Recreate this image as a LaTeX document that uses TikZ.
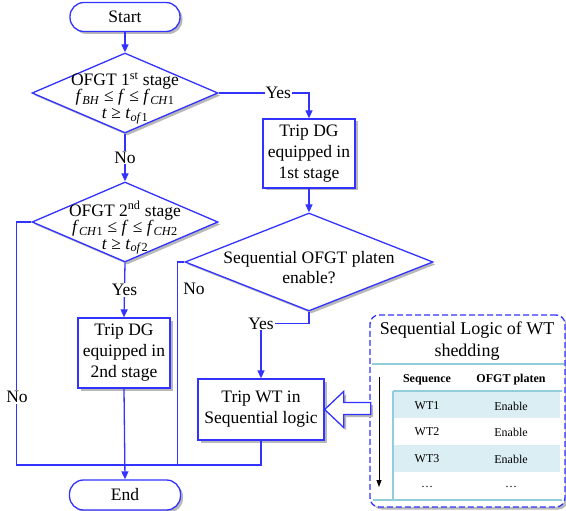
\documentclass[tikz,border=0pt]{standalone}
\usepackage{fontspec}
\setmainfont{Liberation Serif}
\usetikzlibrary{shapes.geometric,shadows,arrows.meta,calc}
\definecolor{fb}{RGB}{51,51,255}
\definecolor{tl}{RGB}{146,205,220}
\definecolor{tf}{RGB}{218,238,243}
\begin{document}
\begin{tikzpicture}[x=1pt,y=-1pt,
  every node/.style={font=\fontsize{17.5}{21}\selectfont},
  shad/.style={drop shadow={shadow xshift=2.5pt,shadow yshift=-2.5pt,fill=black!28,opacity=1}},
  term/.style={draw=fb,line width=1.3pt,fill=white,rounded corners=14pt,minimum width=110pt,minimum height=29pt,inner sep=0pt,shad},
  procbox/.style={draw=fb,line width=1.3pt,fill=white,align=center,inner sep=0pt,shad},
  decis/.style={draw=fb,line width=1.3pt,fill=white,diamond,inner sep=0pt,shad},
  dtext/.style={align=center,inner sep=0pt,font=\fontsize{17.5}{16.5}\selectfont},
  lbl/.style={fill=white,inner sep=1pt},
  flow/.style={draw=fb,line width=1.3pt},
  arr/.style={flow,-{Triangle[length=8pt,width=7pt]}},
  tline/.style={draw=tl,line width=1.2pt},
  tcell/.style={font=\fontsize{12}{14}\selectfont,inner sep=0pt},
  thead/.style={font=\fontsize{12}{14}\selectfont\bfseries,inner sep=0pt}
]
\useasboundingbox (0,0) rectangle (566,511);

% nodes
\node[term] (st) at (125,17) {Start};
\node[decis,minimum width=186pt,minimum height=80pt] (d1) at (125,93) {};
\node[dtext] (d1t) at (125,98) {OFGT 1\textsuperscript{st} stage\\\textit{f}\textsubscript{\textit{BH}} ≤ \textit{f} ≤ \textit{f}\textsubscript{\textit{CH}1}\\\textit{t} ≥ \textit{t}\textsubscript{\textit{of}1}};
\node[procbox,minimum width=92pt,minimum height=69pt] (b1) at (309,153.5) {Trip DG\\equipped in\\1st stage};
\node[decis,minimum width=186pt,minimum height=80pt] (d2) at (125,222) {};
\node[dtext] (d2t) at (125,228) {OFGT 2\textsuperscript{nd} stage\\\textit{f}\textsubscript{\textit{CH}1} ≤ \textit{f} ≤ \textit{f}\textsubscript{\textit{CH}2}\\\textit{t} ≥ \textit{t}\textsubscript{\textit{of}2}};
\node[decis,minimum width=248pt,minimum height=98pt] (d3) at (309,262) {};
\node[dtext,font=\fontsize{17.5}{20}\selectfont] (d3t) at (309,268) {Sequential OFGT platen\\enable?};
\node[procbox,minimum width=92pt,minimum height=70pt] (b2) at (124,353) {Trip DG\\equipped in\\2nd stage};
\node[procbox,minimum width=126pt,minimum height=61pt] (wt) at (261,409.5) {Trip WT in\\Sequential logic};
\node[term,minimum width=111pt,minimum height=30pt] (en) at (125,495) {End};
\coordinate (m) at (125,465);

% connectors
\draw[arr] (st.south) -- (d1.north);
\draw[arr] (d1.east) -| node[lbl,pos=0.33] (y1) {Yes} (b1.north);
\draw[arr] (d1.south) -- node[lbl] (n1) {No} (d2.north);
\draw[arr] (b1.south) -- (d3.north);
\draw[arr] (d2.south) -- node[lbl] (y2) {Yes} (b2.north);
\draw[arr] (d3.south) -- ++(0,12) -| node[lbl,pos=0.5] (y3) {Yes} (wt.north);
\draw[flow] (d2.west) -- ++(-15,0) |- (m);
\draw[flow] (d3.west) -- ++(-7,0) |- (m);
\draw[flow] (wt.south) |- (m);
\draw[arr] (b2.south) -- (en.north);
\node[lbl] (n2) at (17,397) {No};
\node (n3) at (194,289) {No};

% sequential logic panel
\node[draw=fb,dash pattern=on 6pt off 3pt,line width=1.3pt,rounded corners=9pt,minimum width=195pt,minimum height=192pt,fill=white,shad] (sq) at (467.5,411) {};
\node[align=center,inner sep=0pt,font=\fontsize{18}{22}\selectfont] (sqt) at (467,341) {Sequential Logic of WT\\shedding};
\fill[tf] (393,391) rectangle (560,418);
\fill[tf] (393,445) rectangle (560,472);
\draw[tline] (372,364) -- (564,364);
\draw[tline] (393,391) -- (562,391);
\draw[tline] (393,391) -- (393,500);
\draw[tline] (373,500) -- (562,500);
\node[thead] (h1) at (427,380) {Sequence};
\node[thead] (h2) at (511,380) {OFGT platen};
\node[tcell] (r1a) at (427,406) {WT1};
\node[tcell] (r1b) at (511,406) {Enable};
\node[tcell] (r2a) at (427,432) {WT2};
\node[tcell] (r2b) at (511,432) {Enable};
\node[tcell] (r3a) at (427,459) {WT3};
\node[tcell] (r3b) at (511,459) {Enable};
\node[tcell] (r4a) at (427,487) {…};
\node[tcell] (r4b) at (511,487) {…};
\coordinate (sa) at (379,377);
\coordinate (sb) at (379,487);
\draw[black,line width=0.8pt,-{Triangle[length=7pt,width=5pt]}] (sa) -- (sb);

% hollow arrow
\draw[fb,line width=1.3pt,fill=white,shad] (wt.east) -- ++(19,-18) -- ++(0,11) -- ++(27,0) -- ++(0,12) -- ++(-27,0) -- ++(0,13) -- cycle;
\end{tikzpicture}
\end{document}
